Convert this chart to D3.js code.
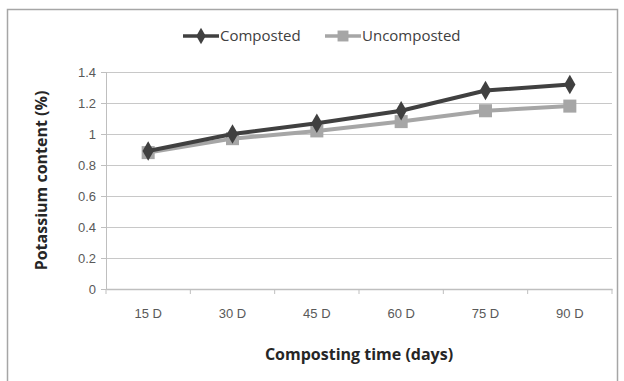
<!DOCTYPE html>
<html>
<head>
<meta charset="utf-8">
<script src="https://cdn.jsdelivr.net/npm/d3@7"></script>
<style>
  body { margin: 0; background: #fff; }
  svg { font-family: "Open Sans", "Liberation Sans", sans-serif; }
</style>
</head>
<body>
<div id="chart"></div>
<script>
var categories = ['15 D', '30 D', '45 D', '60 D', '75 D', '90 D'];
var composted = [0.89, 1.0, 1.07, 1.15, 1.28, 1.32];
var uncomposted = [0.88, 0.97, 1.02, 1.08, 1.15, 1.18];
var yTicks = [0, 0.2, 0.4, 0.6, 0.8, 1, 1.2, 1.4];

var width = 624, height = 381;
var margin = {top: 72, right: 12, bottom: 92, left: 106};

var svg = d3.select('#chart').append('svg')
    .attr('width', width)
    .attr('height', height);

// chart frame
svg.append('rect')
    .attr('x', 7.5).attr('y', 9.5)
    .attr('width', 610).attr('height', 380)
    .attr('fill', '#fff')
    .attr('stroke', '#a6a6a6')
    .attr('stroke-width', 1.5);

var w = width - margin.left - margin.right,
    h = height - margin.top - margin.bottom;

var x = d3.scaleBand()
    .domain(categories)
    .range([0, w]);

var y = d3.scaleLinear()
    .domain([0, 1.4])
    .range([h, 0]);

var graph = svg.append('g')
    .attr('transform', 'translate(' + margin.left + ',' + margin.top + ')');

// gridlines
graph.selectAll('.grid')
    .data(yTicks.slice(1))
    .enter().append('line')
    .attr('class', 'grid')
    .attr('x1', 0).attr('x2', w)
    .attr('y1', d => Math.round(y(d)) + 0.5)
    .attr('y2', d => Math.round(y(d)) + 0.5)
    .attr('stroke', '#c8c8c8')
    .attr('stroke-width', 1);

// y axis
var yAxis = graph.append('g')
    .call(d3.axisLeft(y).tickValues(yTicks).tickSize(5).tickPadding(5)
        .tickFormat(d => d3.format('')(+d.toFixed(1))));
yAxis.select('.domain').attr('stroke', '#bfbfbf');
yAxis.selectAll('line').attr('stroke', '#bfbfbf');
yAxis.selectAll('text')
    .attr('fill', '#595959')
    .style('font-size', '13px');

// x axis
var xAxis = graph.append('g')
    .attr('transform', 'translate(0,' + h + ')')
    .call(d3.axisBottom(x).tickSize(0).tickPadding(20));
xAxis.select('.domain').attr('stroke', '#bfbfbf').attr('stroke-width', 1.5);
xAxis.selectAll('text')
    .attr('fill', '#595959')
    .style('font-size', '13px');

// category boundary ticks
graph.selectAll('.xtick')
    .data(d3.range(categories.length + 1))
    .enter().append('line')
    .attr('x1', i => x.step() * i)
    .attr('x2', i => x.step() * i)
    .attr('y1', h).attr('y2', h + 5)
    .attr('stroke', '#bfbfbf');

var cx = d => x(d) + x.bandwidth() / 2;

var series = [
    {name: 'Composted', values: composted, color: '#404040', symbol: d3.symbolDiamond, size: 110},
    {name: 'Uncomposted', values: uncomposted, color: '#a6a6a6', symbol: d3.symbolSquare, size: 170}
];

var line = d3.line()
    .x((d, i) => cx(categories[i]))
    .y(d => y(d));

// draw uncomposted underneath
series.slice().reverse().forEach(s => {
    graph.append('path')
        .datum(s.values)
        .attr('fill', 'none')
        .attr('stroke', s.color)
        .attr('stroke-width', 4)
        .attr('d', line);
    graph.selectAll(null)
        .data(s.values)
        .enter().append('path')
        .attr('transform', (d, i) => 'translate(' + cx(categories[i]) + ',' + y(d) + ')')
        .attr('d', d3.symbol().type(s.symbol).size(s.size))
        .attr('fill', s.color);
});

// legend
var legend = svg.append('g').attr('transform', 'translate(0,36)');
var lx = [183, 325];
series.forEach((s, i) => {
    var g = legend.append('g').attr('transform', 'translate(' + lx[i] + ',0)');
    g.append('line')
        .attr('x1', 0).attr('x2', 36)
        .attr('stroke', s.color).attr('stroke-width', 3.5);
    g.append('path')
        .attr('transform', 'translate(18,0)')
        .attr('d', d3.symbol().type(s.symbol).size(s.size * 0.7))
        .attr('fill', s.color);
    g.append('text')
        .attr('x', 37).attr('y', 0)
        .attr('dy', '0.35em')
        .attr('fill', '#404040')
        .style('font-size', '15px')
        .text(s.name);
});

// axis titles
svg.append('text')
    .attr('transform', 'translate(47,' + (margin.top + h / 2) + ') rotate(-90)')
    .attr('text-anchor', 'middle')
    .style('font-size', '16px')
    .style('font-weight', 'bold')
    .attr('fill', '#262626')
    .text('Potassium content (%)');

svg.append('text')
    .attr('x', margin.left + w / 2)
    .attr('y', 360)
    .attr('text-anchor', 'middle')
    .style('font-size', '16px')
    .style('font-weight', 'bold')
    .attr('fill', '#262626')
    .text('Composting time (days)');
</script>
</body>
</html>
